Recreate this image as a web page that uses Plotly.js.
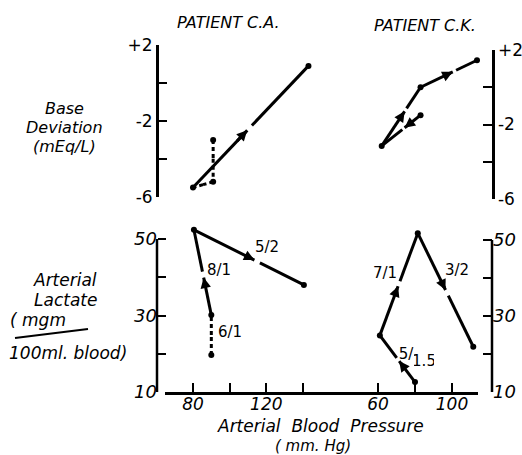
<!DOCTYPE html>
<html><head><meta charset="utf-8">
<script src="https://cdn.plot.ly/plotly-3.0.1.min.js"></script>
<style>html,body{margin:0;padding:0;background:#fff}#chart{width:522px;height:455px}</style>
</head><body><div id="chart"></div>
<script>
// ---------- data ----------
const bpCATop  = [91, 91, 80, 143];
const baseCA   = [-3.0, -5.2, -5.5, 0.9];
const bpCABot  = [90, 90, 80.5, 140.5];
const lactCA   = [19.7, 30.1, 52.4, 38.0];
const bpCKTop  = [83, 62, 83, 113.5];
const baseCK   = [-1.5, -3.15, 0.0, 1.45];
const bpCKBot  = [80, 61, 81.5, 111.5];
const lactCK   = [12.6, 24.9, 51.8, 21.9];
const ratioCA  = ['6/1', '8/1', '5/2'];
const ratioCK  = ['5/', '7/1', '3/2'];
const ratioCKsub = '1.5';
const bpTicksL = [80, 100, 120, 140], bpTextL = ['80', '', '120', ''];
const bpTicksR = [60, 80, 100],       bpTextR = ['60', '', '100'];
const baseTicks = [-6, -4, -2, 0, 2], baseText = ['-6', '', '-2', '', '+2'];
const lactTicks = [10, 20, 30, 40, 50], lactText = ['10', '', '30', '', '50'];

// ---------- helpers ----------
const W = 522, H = 455;
const fx = p => p / W, fy = p => 1 - p / H;
const FONT = 'DejaVu Sans';
const LW = 3;

const panels = [
  {xs: bpCATop, ys: baseCA, xa: 'x',  ya: 'y3', frac: [0.45, 0.5, 0.47], gap: [0, 0, 0.04], dash: ['4px,3px', '4px,3px', 'solid']},
  {xs: bpCABot, ys: lactCA, xa: 'x',  ya: 'y',  frac: [0.5, 0.44, 0.55], gap: [0, 0.07, 0.05], dash: ['4px,3px', 'solid', 'solid']},
  {xs: bpCKTop, ys: baseCK, xa: 'x2', ya: 'y4', frac: [0.41, 0.59, 0.57], gap: [0.06, 0.05, 0.06], dash: ['solid', 'solid', 'solid']},
  {xs: bpCKBot, ys: lactCK, xa: 'x2', ya: 'y2', frac: [0.45, 0.48, 0.5], gap: [0.07, 0.05, 0.05], dash: ['solid', 'solid', 'solid']}
];

const traces = [], annotations = [];
panels.forEach(p => {
  for (let i = 0; i < p.xs.length - 1; i++) {
    const x0 = p.xs[i], y0 = p.ys[i], dx = p.xs[i+1] - x0, dy = p.ys[i+1] - y0;
    const f = p.frac[i], g = p.gap[i];
    const tx = x0 + f * dx, ty = y0 + f * dy;
    traces.push({type: 'scatter', mode: 'lines', x: [x0, tx], y: [y0, ty], xaxis: p.xa, yaxis: p.ya,
      line: {color: '#000', width: LW, dash: p.dash[i]}, hoverinfo: 'skip', showlegend: false});
    traces.push({type: 'scatter', mode: 'lines', x: [x0 + (f + g) * dx, p.xs[i+1]], y: [y0 + (f + g) * dy, p.ys[i+1]],
      xaxis: p.xa, yaxis: p.ya, line: {color: '#000', width: LW, dash: p.dash[i]}, hoverinfo: 'skip', showlegend: false});
    annotations.push({xref: p.xa, yref: p.ya, axref: p.xa, ayref: p.ya, x: tx, y: ty,
      ax: x0 + (f - 0.1) * dx, ay: y0 + (f - 0.1) * dy, text: '', showarrow: true,
      arrowhead: 2, arrowsize: 0.7, arrowwidth: LW, arrowcolor: '#000'});
  }
  traces.push({type: 'scatter', mode: 'markers', x: p.xs, y: p.ys, xaxis: p.xa, yaxis: p.ya,
    marker: {color: '#000', size: 6}, cliponaxis: false, hoverinfo: 'skip', showlegend: false});
});

function txt(t, px, py, size, opts) {
  return Object.assign({xref: 'paper', yref: 'paper', x: fx(px), y: fy(py), text: t, showarrow: false,
    xanchor: 'center', yanchor: 'middle', borderpad: 0,
    font: {family: FONT, size: size, color: '#000', style: 'italic'}}, opts || {});
}
const up = {family: FONT, size: 15, color: '#000'};

annotations.push(
  txt('PATIENT C.A.', 228, 22, 16),
  txt('PATIENT C.K.', 425, 25, 16),
  txt('Base', 64, 108, 16),
  txt('Deviation', 64, 127, 16),
  txt('(mEq/L)', 64, 146, 16),
  txt('Arterial', 65, 280, 17),
  txt('Lactate', 65, 300, 17),
  txt('( mgm', 9, 320, 17, {xanchor: 'left'}),
  txt('100ml. blood)', 8, 353, 17, {xanchor: 'left'}),
  txt('Arterial  Blood  Pressure', 320, 426, 17),
  txt('( mm. Hg)', 313, 445.5, 15),
  txt(ratioCA[0], 230, 332, 15, {font: up}),
  txt(ratioCA[1], 219, 270, 15, {font: up}),
  txt(ratioCA[2], 267, 247, 15, {font: up}),
  txt(ratioCK[0], 406, 354, 15, {font: up, width: 15, height: 16}),
  txt(ratioCKsub, 424, 361, 15, {font: up, width: 20, height: 16}),
  txt(ratioCK[1], 385, 273, 15, {font: up}),
  txt(ratioCK[2], 457, 270, 15, {font: up})
);

const shapes = [
  {type: 'line', xref: 'paper', yref: 'y',  x0: fx(157), x1: fx(157), y0: lactTicks[0], y1: lactTicks[lactTicks.length-1], line: {color: '#000', width: 2.5}},
  {type: 'line', xref: 'paper', yref: 'y2', x0: fx(492), x1: fx(492), y0: lactTicks[0], y1: lactTicks[lactTicks.length-1], line: {color: '#000', width: 2.5}},
  {type: 'line', xref: 'paper', yref: 'paper', x0: fx(15), y0: fy(338), x1: fx(88), y1: fy(329), line: {color: '#000', width: 2}}
];

const tickFontI = {family: FONT, size: 18, color: '#000', style: 'italic'};
const tickFontX = {family: FONT, size: 17, color: '#000', style: 'italic'};
const tickFontU = {family: FONT, size: 17, color: '#000'};
const common = {showgrid: false, zeroline: false, linecolor: '#000', linewidth: 2.5, ticks: 'inside',
  tickcolor: '#000', tickwidth: 2, fixedrange: true};

const layout = {
  width: W, height: H, margin: {l: 0, r: 0, t: 0, b: 0}, paper_bgcolor: '#fff', plot_bgcolor: 'rgba(0,0,0,0)',
  showlegend: false,
  xaxis: Object.assign({}, common, {domain: [fx(165), fx(340)], range: [64.73, 160.2], anchor: 'free', position: fy(393),
    showline: true, ticklen: 9, tickmode: 'array', tickvals: bpTicksL, ticktext: bpTextL, tickfont: tickFontX, ticklabelstandoff: -5}),
  xaxis2: Object.assign({}, common, {domain: [fx(340), fx(478)], range: [39.46, 114.05], anchor: 'free', position: fy(393),
    showline: true, ticklen: 9, tickmode: 'array', tickvals: bpTicksR, ticktext: bpTextR, tickfont: tickFontX, ticklabelstandoff: -5}),
  yaxis: Object.assign({}, common, {domain: [fy(392), fy(392 - 45 * 153 / 40)], range: [10, 55], anchor: 'free', position: fx(157),
    showline: false, ticklen: 8, tickmode: 'array', tickvals: lactTicks, ticktext: lactText, tickfont: tickFontI}),
  yaxis2: Object.assign({}, common, {domain: [fy(392), fy(392 - 45 * 152 / 40)], range: [10, 55], anchor: 'free', position: fx(492),
    side: 'right', showline: false, ticklen: 9, tickmode: 'array', tickvals: lactTicks, ticktext: lactText, tickfont: tickFontI}),
  yaxis3: Object.assign({}, common, {domain: [fy(197), fy(45)], range: [-6, 2], anchor: 'free', position: fx(157),
    showline: true, ticklen: 8, tickmode: 'array', tickvals: baseTicks, ticktext: baseText, tickfont: tickFontU}),
  yaxis4: Object.assign({}, common, {domain: [fy(199), fy(50)], range: [-6, 2], anchor: 'free', position: fx(493),
    side: 'right', showline: true, ticklen: 9, tickmode: 'array', tickvals: baseTicks, ticktext: baseText, tickfont: tickFontU}),
  annotations: annotations,
  shapes: shapes
};

Plotly.newPlot('chart', traces, layout, {staticPlot: true, displayModeBar: false});
</script>
</body></html>
